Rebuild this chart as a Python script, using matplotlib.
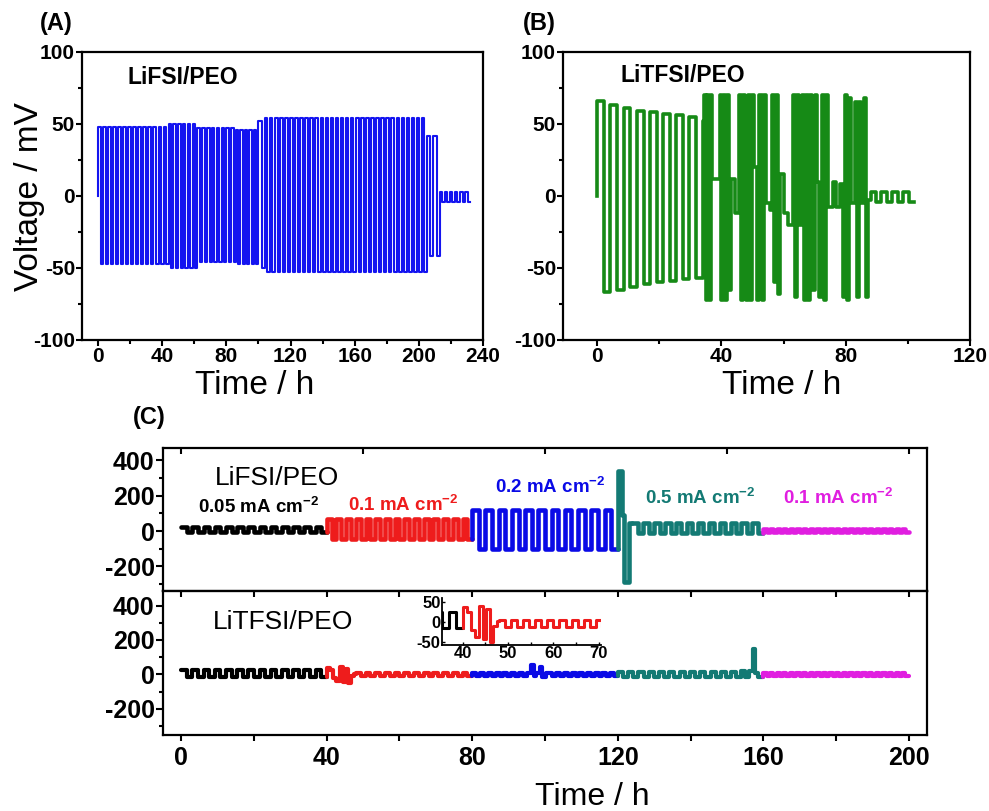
import numpy as np
import matplotlib
matplotlib.use('Agg')
import matplotlib.pyplot as plt
from matplotlib.ticker import MultipleLocator

plt.rcParams['font.family'] = ['Liberation Sans', 'DejaVu Sans']
plt.rcParams['font.weight'] = 'bold'
plt.rcParams['axes.unicode_minus'] = False
plt.rcParams['mathtext.fontset'] = 'custom'
plt.rcParams['mathtext.rm'] = 'Liberation Sans:bold'
plt.rcParams['mathtext.bf'] = 'Liberation Sans:bold'

### (A) LiFSI/PEO cycling, square-wave segments: start, end, cycles, high, low (mV)
a_start  = [0, 44, 62, 86, 100, 104, 205, 213]
a_end    = [44, 62, 86, 100, 104, 205, 213, 232]
a_cycles = [14, 6, 8, 5, 1, 32, 2, 6]
a_high   = [48, 50, 47, 46, 52, 54, 42, 3]
a_low    = [-47, -50, -46, -47, -50, -53, -42, -4]

### (B) LiTFSI/PEO cycling, step levels (h, mV)
b_t_early = [0.0, 2.1, 4.2, 6.4, 8.5, 10.6, 12.7, 14.9, 17.0, 19.1,
             21.2, 23.4, 25.5, 27.6, 29.7, 31.9]
b_v_early = [66, -67, 63, -65, 61, -63, 59, -61, 58, -60,
             57, -59, 56, -58, 55, -57]
b_t_late = [34.0, 34.5, 35.0, 35.5, 36.0, 36.5, 37.0, 39.5, 40.0, 40.6,
            41.2, 41.8, 42.4, 43.0, 44.5, 45.5, 46.2, 46.8, 47.5, 48.0,
            48.5, 49.2, 49.8, 50.5, 51.5, 52.2, 53.0, 53.6, 54.2, 55.5,
            56.2, 56.8, 57.5, 58.2, 58.8, 60.0, 61.5, 63.0, 63.6, 64.3,
            64.9, 65.8, 66.5, 67.2, 67.8, 68.5, 69.2, 70.0, 70.8, 71.5,
            72.3, 73.0, 73.6, 74.4, 76.0, 77.0, 78.0, 79.0, 79.6, 80.3,
            80.9, 81.6, 83.0, 83.6, 84.2, 84.8, 85.8, 86.5, 87.2]
b_v_late = [52, 70, -72, 70, -72, 70, 12, 70, -72, 70,
            -72, 70, -65, 12, -12, 70, -72, 70, 15, -72,
            70, -72, 70, 20, -72, 70, -72, 70, -5, -10,
            70, -60, 70, -68, 15, -12, -20, 70, -70, 70,
            -20, 70, -72, 70, -72, 70, -65, 70, 10, -70,
            70, -72, 70, -8, 10, -8, 8, -70, 70, -72,
            68, -5, 65, -70, 65, -5, 68, -70, -3]
b_small = [88.0, 102.0, 4, 3, -4]

### (C) rate test: stages
stage_names  = ['0.05', '0.1', '0.2', '0.5', '0.1']
stage_colors = ['black', '#ee1c1c', '#0a0ae6', '#137a74', '#e01ee0']

# top (LiFSI/PEO)
ct_stage  = [0, 1, 2, 3, 4]
ct_start  = [0, 40, 80, 124, 160]
ct_end    = [40, 80, 120, 160, 200]
ct_cycles = [13, 15, 11, 12, 22]
ct_high   = [20, 67, 120, 45, 12]
ct_low    = [-8, -45, -100, -10, -5]
ct_spike_t = [120.0, 121.3, 121.7, 123.0]
ct_spike_v = [340, 90, -290, 45]

# bottom (LiTFSI/PEO)
cb_stage  = [0, 1, 2, 2, 3, 4]
cb_start  = [0, 48, 80, 101, 120, 160]
cb_end    = [40, 80, 95, 120, 154, 200]
cb_cycles = [13, 12, 7, 9, 12, 22]
cb_high   = [25, 5, 8, 8, 15, 10]
cb_low    = [-15, -12, -12, -12, -15, -8]
cb_red_t  = [40.0, 41.0, 41.8, 42.6, 43.6, 44.5, 45.2, 45.9, 46.7, 47.5]
cb_red_v  = [38, 25, -20, -38, 40, -42, 32, -50, -10, 3]
cb_blue_t = [95.0, 96.2, 96.9, 97.6, 98.6, 99.3, 100.2]
cb_blue_v = [8, 55, -10, 8, 45, -15, 8]
cb_teal_t = [154.0, 155.0, 156.0, 157.2, 157.8, 158.6]
cb_teal_v = [20, -15, 20, 145, 5, -15]


def square(t0, t1, n, hi, lo):
    e = np.linspace(t0, t1, 2 * n + 1)
    lv = np.tile([hi, lo], n)
    return np.repeat(e, 2)[1:-1], np.repeat(lv, 2)


def steps(ts, vs, t_end):
    e = np.append(ts, t_end)
    return np.repeat(e, 2)[1:-1], np.repeat(np.asarray(vs, float), 2)


def draw_pieces(ax, pieces, lw):
    pieces = sorted(pieces, key=lambda p: p[1][0])
    last = None
    for s, t, v in pieces:
        if last is not None:
            t = np.r_[last[0], t]
            v = np.r_[last[1], v]
        ax.plot(t, v, color=stage_colors[s], lw=lw, solid_joinstyle='round',
                solid_capstyle='round')
        last = (t[-1], v[-1])


fig = plt.figure(figsize=(9.89, 8.11), dpi=100)

### Panel A
axA = fig.add_axes([0.0829, 0.5808, 0.4055, 0.3551])
ta, va = [np.array([0.0])], [np.array([0.0])]
for i in range(len(a_start)):
    t, v = square(a_start[i], a_end[i], a_cycles[i], a_high[i], a_low[i])
    ta.append(t)
    va.append(v)
axA.plot(np.concatenate(ta), np.concatenate(va), color='#1414f0', lw=1.5,
         solid_joinstyle='round')
axA.set_xlim(-10, 240)
axA.set_ylim(-100, 100)
axA.set_xticks([0, 40, 80, 120, 160, 200, 240])
axA.xaxis.set_minor_locator(MultipleLocator(20))
axA.set_yticks([-100, -50, 0, 50, 100])
axA.yaxis.set_minor_locator(MultipleLocator(25))

### Panel B
axB = fig.add_axes([0.5693, 0.5808, 0.4115, 0.3551])
t1, v1 = steps(b_t_early + b_t_late, b_v_early + b_v_late, b_small[0])
t2, v2 = square(*b_small)
tb = np.r_[0.0, t1, t2]
vb = np.r_[0.0, v1, v2]
axB.plot(tb, vb, color='#168a16', lw=2.6, solid_joinstyle='round')
axB.set_xlim(-11, 120)
axB.set_ylim(-100, 100)
axB.set_xticks([0, 40, 80, 120])
axB.xaxis.set_minor_locator(MultipleLocator(20))
axB.set_yticks([-100, -50, 0, 50, 100])
axB.yaxis.set_minor_locator(MultipleLocator(25))

for ax in [axA, axB]:
    ax.tick_params(which='both', direction='out', width=1.5, labelsize=15,
                   top=False, right=False, pad=1)
    ax.tick_params(which='major', length=4)
    ax.tick_params(which='minor', length=3)
    for sp in ax.spines.values():
        sp.set_linewidth(1.6)

### Panel C top
axT = fig.add_axes([0.1648, 0.2713, 0.7725, 0.1763])
pieces = []
for i in range(len(ct_start)):
    t, v = square(ct_start[i], ct_end[i], ct_cycles[i], ct_high[i], ct_low[i])
    pieces.append((ct_stage[i], t, v))
t, v = steps(ct_spike_t, ct_spike_v, 124.0)
pieces.append((3, t, v))
draw_pieces(axT, pieces, 3.3)
axT.set_xlim(-5, 205)
axT.set_ylim(-338, 468)
axT.set_xticks([0, 50, 100, 150, 200])
axT.tick_params(axis='x', bottom=False, top=True, direction='in',
                labelbottom=False, length=4, width=1.5)

### Panel C bottom
axL = fig.add_axes([0.1648, 0.0937, 0.7725, 0.1776])
pieces = []
for i in range(len(cb_start)):
    t, v = square(cb_start[i], cb_end[i], cb_cycles[i], cb_high[i], cb_low[i])
    pieces.append((cb_stage[i], t, v))
t, v = steps(cb_red_t, cb_red_v, 48.0)
pieces.append((1, t, v))
t, v = steps(cb_blue_t, cb_blue_v, 101.0)
pieces.append((2, t, v))
t, v = steps(cb_teal_t, cb_teal_v, 160.0)
pieces.append((3, t, v))
draw_pieces(axL, pieces, 3.0)
axL.set_xlim(-5, 205)
axL.set_ylim(-353, 485)
axL.set_xticks([0, 40, 80, 120, 160, 200])
axL.xaxis.set_minor_locator(MultipleLocator(20))
axL.tick_params(axis='x', which='both', direction='out', length=4, width=1.5,
                labelsize=18, pad=4)
sec = axL.secondary_xaxis('top')
sec.set_xticks(np.arange(0, 201, 20))
sec.tick_params(direction='in', length=4, width=1.5, labeltop=False)

for ax in [axT, axL]:
    ax.set_yticks([-200, 0, 200, 400])
    ax.yaxis.set_minor_locator(MultipleLocator(100))
    ax.tick_params(axis='y', which='both', direction='out', width=1.5,
                   labelsize=18, right=False, pad=1)
    ax.tick_params(axis='y', which='major', length=5)
    ax.tick_params(axis='y', which='minor', length=3)
    for sp in ax.spines.values():
        sp.set_linewidth(1.6)

### Inset
axI = fig.add_axes([0.4469, 0.2047, 0.1608, 0.0580])
axI.patch.set_alpha(0)
draw_pieces(axI, [p for p in pieces if p[0] in (0, 1)], 2.2)
axI.set_xlim(35.4, 70.5)
axI.set_ylim(-57, 60)
axI.set_xticks([40, 50, 60, 70])
axI.set_yticks([-50, 0, 50])
axI.xaxis.set_minor_locator(MultipleLocator(5))
axI.spines['top'].set_visible(False)
axI.spines['right'].set_visible(False)
for sp in ['left', 'bottom']:
    axI.spines[sp].set_linewidth(1.3)
axI.tick_params(which='both', direction='in', length=2, width=1.0,
                labelsize=12, pad=1)

### Texts
fig.text(0.0404, 0.9716, '(A)', fontsize=17, va='center')
fig.text(0.5288, 0.9716, '(B)', fontsize=17, va='center')
fig.text(0.1345, 0.4846, '(C)', fontsize=17, va='center')
fig.text(0.1294, 0.905, 'LiFSI/PEO', fontsize=16.5, va='center')
fig.text(0.6269, 0.9075, 'LiTFSI/PEO', fontsize=16.5, va='center')
fig.text(0.2174, 0.4106, 'LiFSI/PEO', fontsize=19, fontweight='normal', va='center')
fig.text(0.2154, 0.233, 'LiTFSI/PEO', fontsize=19, fontweight='normal', va='center')

lab_x = [198, 348, 495, 645, 783]
lab_y = [507, 505, 487, 498, 498]
for i in range(5):
    fig.text(lab_x[i] / 989, 1 - lab_y[i] / 811,
             stage_names[i] + r' mA cm$^{\mathbf{-2}}$', color=stage_colors[i],
             fontsize=13.5, va='center')

fig.text(0.0303, 0.758, 'Voltage / mV', fontsize=24, fontweight='normal',
         rotation=90, ha='center', va='center')
fig.text(0.2578, 1 - 385 / 811, 'Time / h', fontsize=24, fontweight='normal',
         ha='center', va='center')
fig.text(0.7907, 1 - 385 / 811, 'Time / h', fontsize=24, fontweight='normal',
         ha='center', va='center')
fig.text(0.5986, 1 - 797 / 811, 'Time / h', fontsize=23, fontweight='normal',
         ha='center', va='center')

fig.savefig('out.png', dpi=100)
